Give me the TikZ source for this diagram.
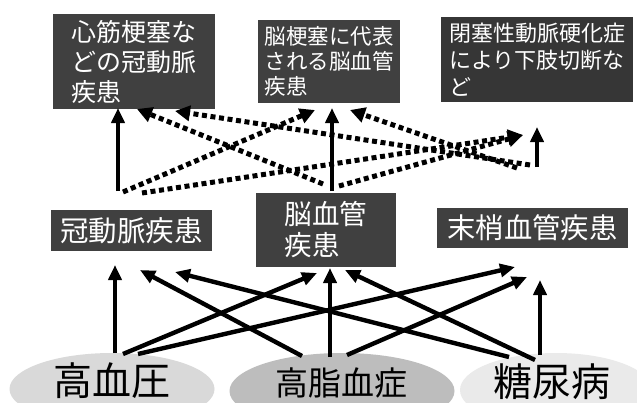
\documentclass[tikz,border=0pt]{standalone}
\usepackage{fontspec}
\setmainfont{Noto Sans CJK JP}
\usetikzlibrary{arrows.meta,shapes.geometric}
\definecolor{boxgray}{HTML}{404040}
\definecolor{boxdark}{HTML}{363636}
\definecolor{ellA}{HTML}{D9D9D9}
\definecolor{ellB}{HTML}{BDBDBD}
\definecolor{ellC}{HTML}{EAEAEA}
\begin{document}
\begin{tikzpicture}[x=1pt,y=-1pt,
  box/.style={fill=boxgray, text=white, inner sep=0pt, align=left},
  ell/.style={ellipse, inner sep=0pt},
  lbl/.style={inner sep=0pt, text=black},
  solidarrow/.style={line width=4.4pt, -{Triangle[length=15pt,width=13pt]}},
  dotarrow/.style={line width=5pt, dash pattern=on 5pt off 3.6pt, -{Triangle[length=15pt,width=15pt]}},
]
\useasboundingbox (0,0) rectangle (637,402);
\fill[white] (0,0) rectangle (637,402);

% bottom ellipses
\begin{scope}
\clip (0,0) rectangle (637,402);
\node[ell, fill=ellA, minimum width=205pt, minimum height=72pt] (e1) at (112,389) {};
\node[ell, fill=ellB, minimum width=225pt, minimum height=76pt] (e2) at (342,391) {};
\node[ell, fill=ellC, minimum width=192pt, minimum height=74pt] (e3) at (556,390) {};
\end{scope}
\node[lbl, font=\fontsize{39}{39}\selectfont] (t1) at (112,381) {高血圧};
\node[lbl, font=\fontsize{33}{33}\selectfont] (t2) at (341,383) {高脂血症};
\node[lbl, font=\fontsize{39}{39}\selectfont] (t3) at (552,382) {糖尿病};

% top boxes
\node[box, minimum width=162pt, minimum height=95pt, font=\fontsize{25}{30}\selectfont] (b1) at (134,61.5) {心筋梗塞な\\どの冠動脈\\疾患};
\node[box, minimum width=142pt, minimum height=83pt, font=\fontsize{21.5}{25}\selectfont] (b2) at (329,61.5) {脳梗塞に代表\\される脳血管\\疾患};
\node[box, fill=boxdark, minimum width=192pt, minimum height=85pt, font=\fontsize{22}{27}\selectfont] (b3) at (537,59.5) {閉塞性動脈硬化症\\により下肢切断な\\ど};

% middle boxes
\node[box, minimum width=161pt, minimum height=41pt, font=\fontsize{28.5}{30}\selectfont] (m1) at (131.5,230.5) {冠動脈疾患};
\node[box, minimum width=140pt, minimum height=74pt, font=\fontsize{27.5}{31}\selectfont] (m2) at (326,230) {脳血管\\疾患};
\node[box, minimum width=191pt, minimum height=40pt, font=\fontsize{28.3}{30}\selectfont] (m3) at (532.5,228) {末梢血管疾患};

% connector end points (bottom level)
\coordinate (e1a) at (115,353);
\coordinate (e1b) at (123,354);
\coordinate (e1c) at (138,354);
\coordinate (e2a) at (302,356);
\coordinate (e2b) at (330,357);
\coordinate (e2c) at (347,355);
\coordinate (e3a) at (509,357);
\coordinate (e3b) at (535,360);
\coordinate (e3c) at (540,355);
\coordinate (m1a) at (115,265);
\coordinate (m1b) at (140,270);
\coordinate (m1c) at (175,272);
\coordinate (m2a) at (317,273);
\coordinate (m2b) at (330,268);
\coordinate (m2c) at (345,270);
\coordinate (m3a) at (515,267);
\coordinate (m3b) at (527,277);
\coordinate (m3c) at (540,280);

\draw[solidarrow] (e1a) -- (m1a);
\draw[solidarrow] (e1b) -- (m2a);
\draw[solidarrow] (e1c) -- (m3a);
\draw[solidarrow] (e2a) -- (m1b);
\draw[solidarrow] (e2b) -- (m2b);
\draw[solidarrow] (e2c) -- (m3b);
\draw[solidarrow] (e3a) -- (m1c);
\draw[solidarrow] (e3b) -- (m2c);
\draw[solidarrow] (e3c) -- (m3c);

% connector end points (top level)
\coordinate (m1s) at (118,191);
\coordinate (m1d) at (123,192);
\coordinate (m1e) at (142,193);
\coordinate (m2s) at (332,191);
\coordinate (m2d) at (323,184);
\coordinate (m2e) at (339,186);
\coordinate (m3s) at (537,167);
\coordinate (m3d) at (530,165);
\coordinate (m3e) at (517,168);
\coordinate (b1s) at (118,108);
\coordinate (b1d) at (137,109);
\coordinate (b1e) at (175,111);
\coordinate (b2s) at (332,108);
\coordinate (b2d) at (315,110);
\coordinate (b2e) at (350,110);
\coordinate (b3s) at (537,127);
\coordinate (b3d) at (523,135);

\draw[dotarrow] (m1d) -- (b2d);
\draw[dotarrow] (m1e) -- (b3d);
\draw[dotarrow] (m2d) -- (b1d);
\draw[dotarrow] (m2e) -- (b3d);
\draw[dotarrow] (m3d) -- (b1e);
\draw[dotarrow] (m3e) -- (b2e);

\draw[solidarrow] (m1s) -- (b1s);
\draw[solidarrow] (m2s) -- (b2s);
\draw[solidarrow] (m3s) -- (b3s);
\end{tikzpicture}
\end{document}
